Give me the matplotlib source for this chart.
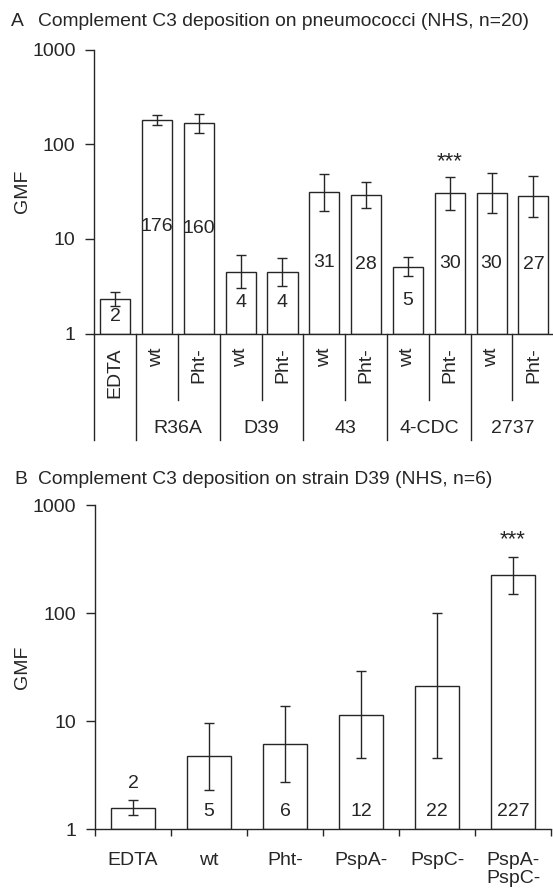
import numpy as np
import matplotlib.pyplot as plt
import matplotlib.transforms as mtransforms

plt.rcParams['font.family'] = ['Liberation Sans', 'DejaVu Sans']
INK = '#262626'

# Panel A: C3 deposition on pneumococci
a_labels = ['EDTA', 'wt', 'Pht-', 'wt', 'Pht-', 'wt', 'Pht-', 'wt', 'Pht-', 'wt', 'Pht-']
a_groups = ['R36A', 'D39', '43', '4-CDC', '2737']
a_gmf = [2.3, 178, 167, 4.5, 4.5, 31, 29, 5.1, 30.3, 30.7, 28.2]
a_low = [1.95, 158, 130, 3.0, 3.2, 19.9, 21.2, 4.04, 20.2, 18.9, 16.9]
a_high = [2.77, 205, 207, 6.76, 6.28, 48.3, 39.4, 6.49, 44.6, 50, 46]
a_text = ['2', '176', '160', '4', '4', '31', '28', '5', '30', '30', '27']
a_sig = [8]

# Panel B: C3 deposition on strain D39
b_labels = ['EDTA', 'wt', 'Pht-', 'PspA-', 'PspC-', 'PspA-\nPspC-']
b_gmf = [1.59, 4.74, 6.21, 11.4, 21.2, 225]
b_low = [1.36, 2.30, 2.76, 4.54, 4.54, 150]
b_high = [1.86, 9.66, 13.9, 29.2, 100.7, 332]
b_text = ['2', '5', '6', '12', '22', '227']
b_sig = [5]

FS = 14
TITLE_FS = 13.85

fig = plt.figure(figsize=(5.53, 8.93), dpi=100)
axA = fig.add_axes([94.3 / 553, (893 - 333.5) / 893, 460 / 553, 284 / 893])
axB = fig.add_axes([95 / 553, (893 - 829.3) / 893, 456 / 553, 324.3 / 893])


def style_axis(ax):
    ax.set_yscale('log')
    ax.set_ylim(1, 1000)
    ax.set_yticks([1, 10, 100, 1000])
    ax.set_yticklabels(['1', '10', '100', '1000'])
    ax.yaxis.set_minor_locator(plt.NullLocator())
    ax.tick_params(axis='y', direction='out', length=6.5, width=1, pad=7,
                   labelsize=FS, color=INK, labelcolor=INK)
    for s in ['top', 'right']:
        ax.spines[s].set_visible(False)
    for s in ['left', 'bottom']:
        ax.spines[s].set_color(INK)
        ax.spines[s].set_linewidth(1)
    ax.set_ylabel('GMF', fontsize=FS, color=INK)


def draw_bars(ax, vals, lo, hi, width):
    x = np.arange(len(vals))
    v = np.array(vals)
    ax.bar(x, v - 1, bottom=1, width=width, color='white', edgecolor=INK,
           linewidth=1, zorder=2)
    err = [v - np.array(lo), np.array(hi) - v]
    ax.errorbar(x, v, yerr=err, fmt='none', ecolor=INK, elinewidth=1,
                capsize=3.3, capthick=1, zorder=3)
    ax.set_xlim(-0.5, len(vals) - 0.5)
    return x


# ---- Panel A ----
style_axis(axA)
xa = draw_bars(axA, a_gmf, a_low, a_high, 0.72)
axA.set_xticks(xa)
axA.set_xticklabels(a_labels, rotation=90, fontsize=FS, color=INK)
axA.tick_params(axis='x', length=0, pad=10)
for i, t in enumerate(a_text):
    axA.text(xa[i], np.sqrt(a_gmf[i]), t, ha='center', va='center',
             fontsize=FS, color=INK)
for i in a_sig:
    axA.text(xa[i], a_high[i] * 1.45, '***', ha='center', va='center',
             fontsize=16, color=INK)

trA = mtransforms.blended_transform_factory(axA.transData, axA.transAxes)
for k in range(len(a_labels)):
    edge = k - 0.5
    short = (k >= 2) and (k % 2 == 0)
    y_end = -0.234 if short else -0.375
    axA.plot([edge, edge], [0, y_end], color=INK, lw=1, transform=trA,
             clip_on=False)
for g, name in enumerate(a_groups):
    axA.text(1.5 + 2 * g, -0.333, name, ha='center', va='center',
             fontsize=FS, color=INK, transform=trA)
axA.yaxis.set_label_coords(-0.138, 0.5)
fig.text(11 / 553, 1 - 21.5 / 893, 'A', fontsize=TITLE_FS, color=INK, va='center')
fig.text(38 / 553, 1 - 21.5 / 893,
         'Complement C3 deposition on pneumococci (NHS, n=20)',
         fontsize=TITLE_FS, color=INK, va='center')

# ---- Panel B ----
style_axis(axB)
xb = draw_bars(axB, b_gmf, b_low, b_high, 0.59)
axB.set_xticks(np.arange(len(b_gmf) + 1) - 0.5)
axB.set_xticklabels([])
axB.tick_params(axis='x', which='major', direction='out', length=5,
                width=1, color=INK)
axB.set_xticks(xb, minor=True)
axB.set_xticklabels(b_labels, minor=True, fontsize=FS, color=INK,
                    linespacing=1.15)
axB.tick_params(axis='x', which='minor', length=0, pad=16)
for i, t in enumerate(b_text):
    y = 1.45 if b_gmf[i] > 3 else b_high[i] * 1.42
    axB.text(xb[i], y, t, ha='center', va='center', fontsize=FS, color=INK)
for i in b_sig:
    axB.text(xb[i], b_high[i] * 1.43, '***', ha='center', va='center',
             fontsize=16, color=INK)
axB.yaxis.set_label_coords(-0.140, 0.5)
fig.text(14 / 553, 1 - 480 / 893, 'B', fontsize=TITLE_FS, color=INK, va='center')
fig.text(38 / 553, 1 - 480 / 893,
         'Complement C3 deposition on strain D39 (NHS, n=6)',
         fontsize=TITLE_FS, color=INK, va='center')

fig.savefig('out.png', dpi=100)
